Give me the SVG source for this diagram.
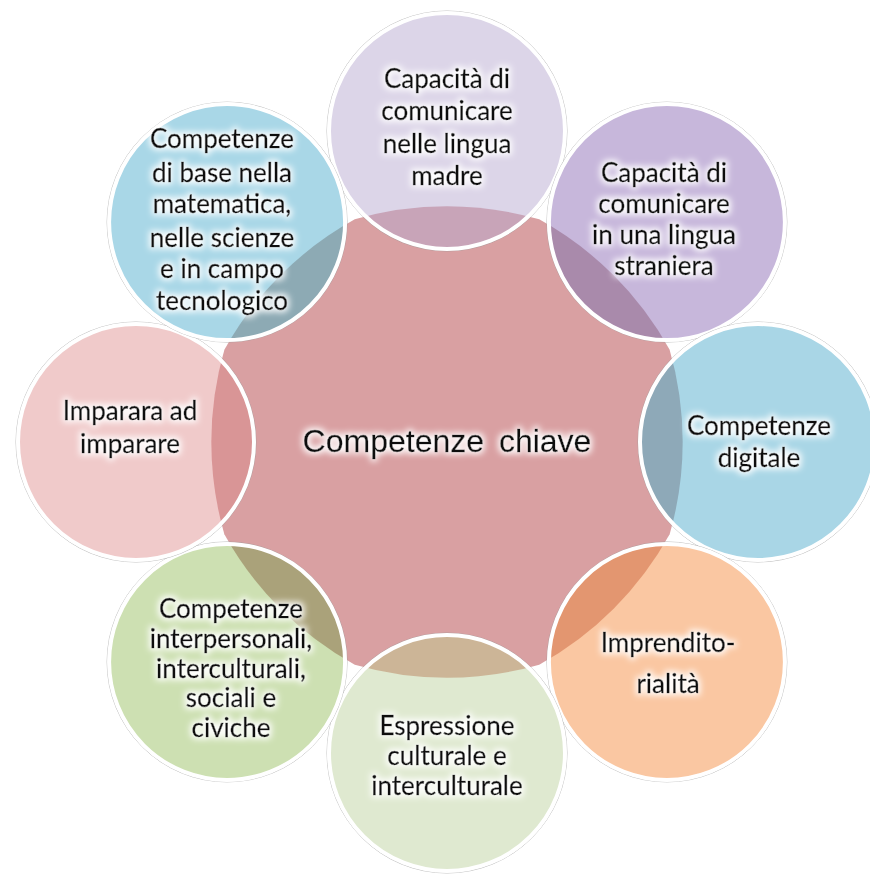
<svg xmlns="http://www.w3.org/2000/svg" width="870" height="875" viewBox="0 0 870 875">
<style>
.lbl{font-family:Lato,"Open Sans","Liberation Sans",sans-serif;font-size:26px;fill:#111;stroke:#111;stroke-width:0.45;text-anchor:middle}
.core-lbl{font-family:"Liberation Sans",Arial,sans-serif;font-size:32px;fill:#111;stroke:#111;stroke-width:0.3;text-anchor:middle}
.rim{fill:none;stroke:#fff;stroke-width:4}
.edge{fill:none;stroke:#9a9a9a;stroke-width:1;stroke-opacity:0.6}
.ov{clip-path:url(#core)}
</style>
<defs>
<path id="coreShape" d="M669.65,534.23 A333,333 0 0 1 539.23,664.65 A333,333 0 0 1 354.77,664.65 A333,333 0 0 1 224.35,534.23 A333,333 0 0 1 224.35,349.77 A333,333 0 0 1 354.77,219.35 A333,333 0 0 1 539.23,219.35 A333,333 0 0 1 669.65,349.77 A333,333 0 0 1 669.65,534.23 Z"/>
<clipPath id="core"><use href="#coreShape"/></clipPath>
<filter id="glow" x="-20%" y="-40%" width="140%" height="180%">
<feMorphology in="SourceAlpha" operator="dilate" radius="2" result="d"/>
<feGaussianBlur in="d" stdDeviation="3" result="b"/>
<feFlood flood-color="#ffffff" flood-opacity="0.95"/>
<feComposite in2="b" operator="in" result="g"/>
<feMerge><feMergeNode in="g"/><feMergeNode in="SourceGraphic"/></feMerge>
</filter>
</defs>
<rect width="870" height="875" fill="#ffffff"/>
<g id="center">
<use href="#coreShape" fill="#d9a0a2"/>
<text class="core-lbl" x="447" y="452" filter="url(#glow)" word-spacing="6">Competenze chiave</text>
</g>
<g id="connectors"/>
<g id="n-top">
<circle cx="447" cy="131" r="120" class="edge"/>
<circle cx="447" cy="131" r="118" fill="#dcd5e8"/>
<circle cx="447" cy="131" r="118" fill="#c8a4b8" class="ov"/>
<circle cx="447" cy="131" r="118" class="rim"/>
<g filter="url(#glow)">
<text class="lbl" x="447" y="88">Capacità di</text>
<text class="lbl" x="447" y="120">comunicare</text>
<text class="lbl" x="447" y="153">nelle lingua</text>
<text class="lbl" x="447" y="185">madre</text>
</g>
</g>
<g id="n-topright">
<circle cx="666.9" cy="222.1" r="120" class="edge"/>
<circle cx="666.9" cy="222.1" r="118" fill="#c7b7db"/>
<circle cx="666.9" cy="222.1" r="118" fill="#a98aab" class="ov"/>
<circle cx="666.9" cy="222.1" r="118" class="rim"/>
<g filter="url(#glow)">
<text class="lbl" x="664" y="182">Capacità di</text>
<text class="lbl" x="664" y="213">comunicare</text>
<text class="lbl" x="664" y="244">in una lingua</text>
<text class="lbl" x="664" y="275">straniera</text>
</g>
</g>
<g id="n-right">
<circle cx="758" cy="442" r="120" class="edge"/>
<circle cx="758" cy="442" r="118" fill="#a9d6e6"/>
<circle cx="758" cy="442" r="118" fill="#8ea9b8" class="ov"/>
<circle cx="758" cy="442" r="118" class="rim"/>
<g filter="url(#glow)">
<text class="lbl" x="759" y="435">Competenze</text>
<text class="lbl" x="759" y="467">digitale</text>
</g>
</g>
<g id="n-bottomright">
<circle cx="666.9" cy="661.9" r="120" class="edge"/>
<circle cx="666.9" cy="661.9" r="118" fill="#fac7a2"/>
<circle cx="666.9" cy="661.9" r="118" fill="#e39670" class="ov"/>
<circle cx="666.9" cy="661.9" r="118" class="rim"/>
<g filter="url(#glow)">
<text class="lbl" x="668" y="652">Imprendito-</text>
<text class="lbl" x="668" y="693">rialità</text>
</g>
</g>
<g id="n-bottom">
<circle cx="447" cy="753" r="120" class="edge"/>
<circle cx="447" cy="753" r="118" fill="#dfe9d0"/>
<circle cx="447" cy="753" r="118" fill="#ccb597" class="ov"/>
<circle cx="447" cy="753" r="118" class="rim"/>
<g filter="url(#glow)">
<text class="lbl" x="447" y="735">Espressione</text>
<text class="lbl" x="447" y="765">culturale e</text>
<text class="lbl" x="447" y="795">interculturale</text>
</g>
</g>
<g id="n-bottomleft">
<circle cx="227.1" cy="661.9" r="120" class="edge"/>
<circle cx="227.1" cy="661.9" r="118" fill="#cde0b2"/>
<circle cx="227.1" cy="661.9" r="118" fill="#aaa27a" class="ov"/>
<circle cx="227.1" cy="661.9" r="118" class="rim"/>
<g filter="url(#glow)">
<text class="lbl" x="231" y="618">Competenze</text>
<text class="lbl" x="231" y="648">interpersonali,</text>
<text class="lbl" x="231" y="678">interculturali,</text>
<text class="lbl" x="231" y="707">sociali e</text>
<text class="lbl" x="231" y="737">civiche</text>
</g>
</g>
<g id="n-left">
<circle cx="136" cy="442" r="120" class="edge"/>
<circle cx="136" cy="442" r="118" fill="#f0caca"/>
<circle cx="136" cy="442" r="118" fill="#d99596" class="ov"/>
<circle cx="136" cy="442" r="118" class="rim"/>
<g filter="url(#glow)">
<text class="lbl" x="130" y="420">Imparara ad</text>
<text class="lbl" x="130" y="453">imparare</text>
</g>
</g>
<g id="n-topleft">
<circle cx="227.1" cy="222.1" r="120" class="edge"/>
<circle cx="227.1" cy="222.1" r="118" fill="#a9d7e7"/>
<circle cx="227.1" cy="222.1" r="118" fill="#8daab4" class="ov"/>
<circle cx="227.1" cy="222.1" r="118" class="rim"/>
<g filter="url(#glow)">
<text class="lbl" x="222" y="148">Competenze</text>
<text class="lbl" x="222" y="182">di base nella</text>
<text class="lbl" x="222" y="213">matematica,</text>
<text class="lbl" x="222" y="247">nelle scienze</text>
<text class="lbl" x="222" y="278">e in campo</text>
<text class="lbl" x="222" y="310">tecnologico</text>
</g>
</g>
</svg>
